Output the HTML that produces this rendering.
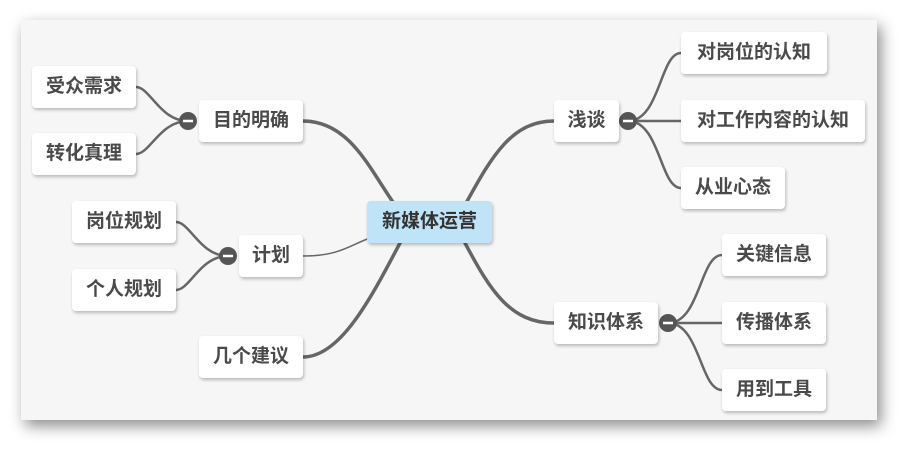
<!DOCTYPE html>
<html><head><meta charset="utf-8"><style>
body{margin:0;width:919px;height:462px;background:#fff;overflow:hidden;position:relative;font-family:"Liberation Sans","Noto Sans CJK SC",sans-serif}
.panel{position:absolute;left:21px;top:20px;width:856px;height:400px;background:#f6f6f6;box-shadow:4px 6px 14px rgba(0,0,0,.45)}
.n{position:absolute;height:42px;line-height:42px;text-align:center;background:#fff;border-radius:4px;box-shadow:1px 2px 3px rgba(0,0,0,.25);font-size:19px;font-weight:bold;color:#4a4a4a}
svg{position:absolute;left:0;top:0}
</style></head><body>
<div class="panel"></div>
<svg width="919" height="462" fill="none" stroke="#666" stroke-linecap="round">
<path d="M303 121 C350 121 370 170 395 205" stroke-width="3.5"/>
<path d="M303 256 C340 256 350 245 370 238" stroke-width="1.5"/>
<path d="M303 357 C340 357 370 300 400 243" stroke-width="3.5"/>
<path d="M554 121 C510 121 490 160 465 205" stroke-width="3.5"/>
<path d="M554 323 C510 323 490 290 465 243" stroke-width="3.5"/>
<path d="M188 121 C160 121 150 87 136 87" stroke-width="2.5"/>
<path d="M188 121 C160 121 150 154 136 154" stroke-width="2.5"/>
<path d="M228 256 C200 256 190 222 176 222" stroke-width="2.5"/>
<path d="M228 256 C200 256 190 290 176 290" stroke-width="2.5"/>
<path d="M628 121 C660 121 660 53 681 53" stroke-width="2.5"/>
<path d="M628 121 L681 121" stroke-width="2.5"/>
<path d="M628 121 C660 121 660 188 681 188" stroke-width="2.5"/>
<path d="M668 323 C700 323 700 255 722 255" stroke-width="2.5"/>
<path d="M668 323 L722 323" stroke-width="2.5"/>
<path d="M668 323 C700 323 700 390 722 390" stroke-width="2.5"/>
<g fill="#555" stroke="none">
<circle cx="188" cy="121" r="9"/><circle cx="228" cy="256" r="9"/><circle cx="628" cy="121" r="9"/><circle cx="668" cy="323" r="9"/></g>
<g stroke="#fff" stroke-width="2.5" stroke-linecap="butt">
<path d="M183 121h10M223 256h10M623 121h10M663 323h10"/></g>
</svg>
<div class="n" style="left:32px;top:66px;width:104px">受众需求</div>
<div class="n" style="left:32px;top:133px;width:104px">转化真理</div>
<div class="n" style="left:199px;top:100px;width:104px">目的明确</div>
<div class="n" style="left:72px;top:201px;width:104px">岗位规划</div>
<div class="n" style="left:72px;top:269px;width:104px">个人规划</div>
<div class="n" style="left:239px;top:235px;width:64px">计划</div>
<div class="n" style="left:199px;top:336px;width:104px">几个建议</div>
<div class="n" style="left:367px;top:201px;width:125px;background:#bfe3f7;color:#333">新媒体运营</div>
<div class="n" style="left:554px;top:100px;width:65px">浅谈</div>
<div class="n" style="left:681px;top:32px;width:146px">对岗位的认知</div>
<div class="n" style="left:681px;top:100px;width:184px">对工作内容的认知</div>
<div class="n" style="left:681px;top:167px;width:104px">从业心态</div>
<div class="n" style="left:554px;top:302px;width:104px">知识体系</div>
<div class="n" style="left:722px;top:234px;width:104px">关键信息</div>
<div class="n" style="left:722px;top:302px;width:104px">传播体系</div>
<div class="n" style="left:722px;top:369px;width:104px">用到工具</div>
</body></html>
